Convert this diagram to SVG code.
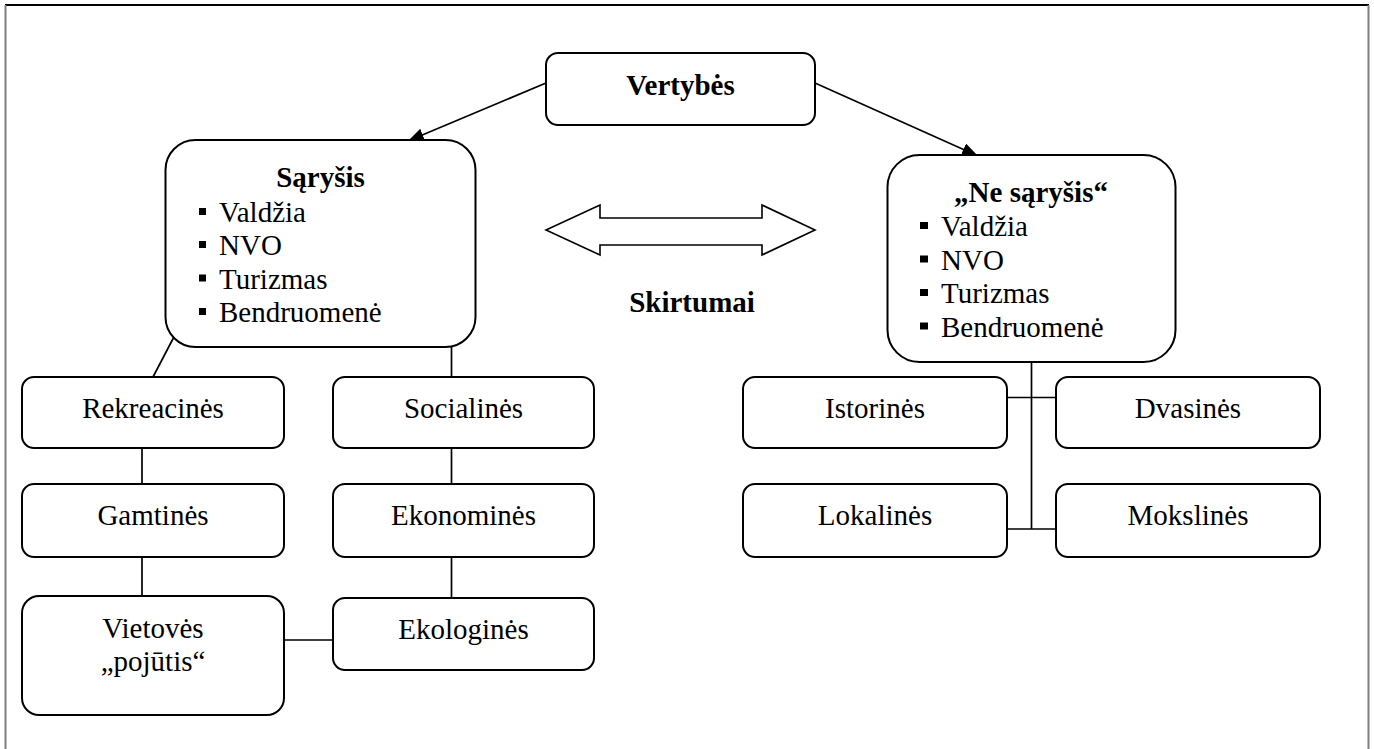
<svg xmlns="http://www.w3.org/2000/svg" width="1374" height="749" viewBox="0 0 1374 749">
<style>
  .box { fill: #ffffff; stroke: #000000; stroke-width: 2; }
  .t { font-family: "Liberation Serif", "Times New Roman", serif; font-size: 29px; fill: #000000; }
  .c { text-anchor: middle; }
  .b { font-weight: bold; }
  .ln { stroke: #000000; stroke-width: 1.7; fill: none; }
  .bul { fill: #000000; }
  .frame-side { stroke: #808080; stroke-width: 2; }
  .frame-top { stroke: #000000; stroke-width: 2; }
</style>
<defs>
  <marker id="ah" markerUnits="userSpaceOnUse" markerWidth="16" markerHeight="13" refX="16" refY="6.5" orient="auto">
    <path d="M0,0 L16,6.5 L0,13 z" fill="#000000"/>
  </marker>
</defs>
<rect x="0" y="0" width="1374" height="749" fill="#ffffff"/>
<g id="frame">
  <line class="frame-top" x1="5" y1="5" x2="1369" y2="5"/>
  <line class="frame-side" x1="5.5" y1="5" x2="5.5" y2="749"/>
  <line class="frame-side" x1="1368.5" y1="5" x2="1368.5" y2="749"/>
</g>
<g id="connectors">
  <line class="ln" x1="546" y1="83" x2="408" y2="141" marker-end="url(#ah)"/>
  <line class="ln" x1="815" y1="83" x2="978" y2="156" marker-end="url(#ah)"/>
  <line class="ln" x1="176" y1="333" x2="153" y2="377"/>
  <line class="ln" x1="451.5" y1="347" x2="451.5" y2="377"/>
  <line class="ln" x1="142" y1="448" x2="142" y2="484"/>
  <line class="ln" x1="142" y1="557" x2="142" y2="596"/>
  <line class="ln" x1="451.5" y1="448" x2="451.5" y2="484"/>
  <line class="ln" x1="451.5" y1="557" x2="451.5" y2="598"/>
  <line class="ln" x1="284" y1="640" x2="333" y2="640"/>
  <line class="ln" x1="1031.5" y1="362" x2="1031.5" y2="529"/>
  <line class="ln" x1="1007" y1="397.5" x2="1056" y2="397.5"/>
  <line class="ln" x1="1007" y1="529" x2="1056" y2="529"/>
</g>
<g id="skirtumai">
  <polygon points="546,230 600,205 600,218 762,218 762,205 815,230 762,255 762,245 600,245 600,255" fill="#ffffff" stroke="#000000" stroke-width="1.6" stroke-linejoin="miter"/>
  <text class="t b c" x="692" y="312">Skirtumai</text>
</g>
<g id="vertybes">
  <rect class="box" x="546" y="53" width="269" height="72" rx="12"/>
  <text class="t b c" x="680.5" y="95">Vertybės</text>
</g>
<g id="sarysis">
  <rect class="box" x="165.5" y="140" width="310" height="207" rx="30"/>
  <text class="t b c" x="320.5" y="187">Sąryšis</text>
  <rect class="bul" x="199" y="208" width="7" height="7"/>
  <text class="t" x="219" y="222">Valdžia</text>
  <rect class="bul" x="199" y="241" width="7" height="7"/>
  <text class="t" x="219" y="255">NVO</text>
  <rect class="bul" x="199" y="274.5" width="7" height="7"/>
  <text class="t" x="219" y="288.5">Turizmas</text>
  <rect class="bul" x="199" y="308" width="7" height="7"/>
  <text class="t" x="219" y="322">Bendruomenė</text>
</g>
<g id="ne-sarysis">
  <rect class="box" x="887.5" y="155" width="288" height="207" rx="32"/>
  <text class="t b c" x="1031" y="202">„Ne sąryšis“</text>
  <rect class="bul" x="920" y="222" width="8" height="7"/>
  <text class="t" x="941" y="236">Valdžia</text>
  <rect class="bul" x="920" y="255.5" width="8" height="7"/>
  <text class="t" x="941" y="269.5">NVO</text>
  <rect class="bul" x="920" y="289" width="8" height="7"/>
  <text class="t" x="941" y="303">Turizmas</text>
  <rect class="bul" x="920" y="322.5" width="8" height="7"/>
  <text class="t" x="941" y="336.5">Bendruomenė</text>
</g>
<g id="rekreacines">
  <rect class="box" x="22" y="377" width="262" height="71" rx="12"/>
  <text class="t c" x="153" y="418">Rekreacinės</text>
</g>
<g id="gamtines">
  <rect class="box" x="22" y="484" width="262" height="73" rx="12"/>
  <text class="t c" x="153" y="525">Gamtinės</text>
</g>
<g id="vietoves">
  <rect class="box" x="22" y="596" width="262" height="119" rx="17"/>
  <text class="t c" x="153" y="638">Vietovės</text>
  <text class="t c" x="153" y="671">„pojūtis“</text>
</g>
<g id="socialines">
  <rect class="box" x="333" y="377" width="261" height="71" rx="12"/>
  <text class="t c" x="463.5" y="418">Socialinės</text>
</g>
<g id="ekonomines">
  <rect class="box" x="333" y="484" width="261" height="73" rx="12"/>
  <text class="t c" x="463.5" y="525">Ekonominės</text>
</g>
<g id="ekologines">
  <rect class="box" x="333" y="598" width="261" height="72" rx="12"/>
  <text class="t c" x="463.5" y="639">Ekologinės</text>
</g>
<g id="istorines">
  <rect class="box" x="743" y="377" width="264" height="71" rx="12"/>
  <text class="t c" x="875" y="418">Istorinės</text>
</g>
<g id="dvasines">
  <rect class="box" x="1056" y="377" width="264" height="71" rx="12"/>
  <text class="t c" x="1188" y="418">Dvasinės</text>
</g>
<g id="lokalines">
  <rect class="box" x="743" y="484" width="264" height="73" rx="12"/>
  <text class="t c" x="875" y="525">Lokalinės</text>
</g>
<g id="mokslines">
  <rect class="box" x="1056" y="484" width="264" height="73" rx="12"/>
  <text class="t c" x="1188" y="525">Mokslinės</text>
</g>
</svg>
